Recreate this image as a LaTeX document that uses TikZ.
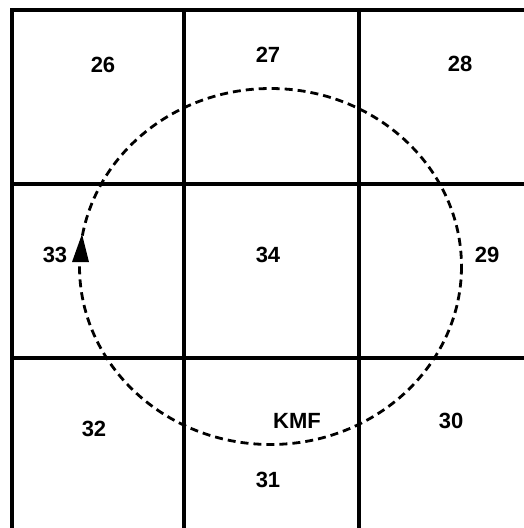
\documentclass[tikz,border=0pt]{standalone}
\usepackage{fontspec}
\setmainfont{Liberation Sans}
\begin{document}
\begin{tikzpicture}[x=1pt,y=-1pt,
  gridline/.style={line width=4.2pt},
  orbit/.style={line width=2.8pt,dash pattern=on 8pt off 5pt},
  lbl/.style={font=\fontsize{22}{26}\selectfont\bfseries,inner sep=0pt}]
\useasboundingbox (0,0) rectangle (524,528);
\fill[white] (0,0) rectangle (524,528);
% grid
\draw[gridline] (12,528) -- (12,10) -- (524,10);
\draw[gridline] (184,10) -- (184,528);
\draw[gridline] (359,10) -- (359,528);
\draw[gridline] (10,184) -- (524,184);
\draw[gridline] (10,358) -- (524,358);
% dashed orbit
\draw[orbit] (270.5,266.5) ellipse [x radius=191, y radius=178];
% arrow
\fill (82,234) -- (72,262) -- (89,262) -- cycle;
% labels
\node[lbl] (n26) at (103,65) {26};
\node[lbl] (n27) at (268,55) {27};
\node[lbl] (n28) at (460,64) {28};
\node[lbl] (n33) at (55,255) {33};
\node[lbl] (n34) at (268,255) {34};
\node[lbl] (n29) at (487,255) {29};
\node[lbl] (n32) at (94,429) {32};
\node[lbl] (nkmf) at (297,421) {KMF};
\node[lbl] (n30) at (451,421) {30};
\node[lbl] (n31) at (268,480) {31};
\end{tikzpicture}
\end{document}
